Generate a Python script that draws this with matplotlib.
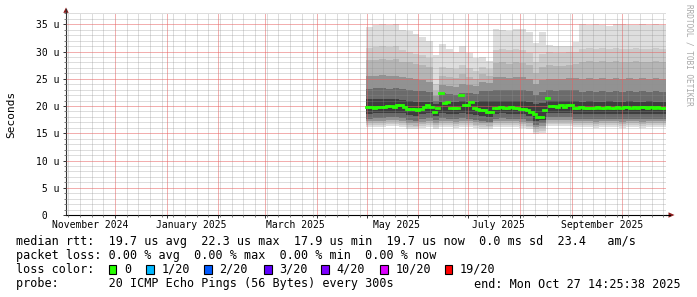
import numpy as np
import matplotlib
matplotlib.use("Agg")
import matplotlib.pyplot as plt
import matplotlib.dates as mdates
import matplotlib.transforms as mtransforms
from matplotlib.ticker import MultipleLocator, NullFormatter, FixedLocator
from matplotlib.lines import Line2D
from matplotlib.patches import Polygon, Rectangle
from datetime import datetime, timedelta

# ---------------- data ----------------
graph_start = datetime(2024, 11, 1, 14, 25, 38)
graph_end = datetime(2025, 10, 27, 14, 25, 38)
data_start = datetime(2025, 4, 30, 14, 25, 38)
smoke_step_days = 4
median_step_days = 2

# sorted-ping ranks (of 20) per 4-day bin, microseconds
smoke_r20 = [34.5, 34.8, 35.1, 34.8, 35.1, 34.0, 33.8, 33.2, 32.6, 32.0,
             29.3, 31.4, 30.4, 29.9, 31.0, 29.8, 28.8, 29.0, 28.3, 34.2,
             34.0, 33.8, 34.1, 34.1, 33.5, 31.5, 33.5, 31.2, 31.1, 31.0,
             31.0, 31.8, 35.0, 34.8, 35.1, 34.9, 34.7, 35.0, 35.1, 34.8,
             34.9, 35.0, 34.8, 35.0, 34.9]
smoke_r19 = [30.6, 30.8, 31.0, 30.8, 31.0, 30.2, 30.0, 29.6, 29.3, 28.8,
             24.0, 27.2, 27.0, 26.8, 27.5, 27.0, 26.5, 27.2, 26.8, 30.3,
             30.5, 30.2, 30.4, 30.3, 29.8, 28.0, 29.5, 29.9, 29.7, 29.8,
             29.9, 30.0, 30.5, 30.6, 30.4, 30.7, 30.5, 30.6, 30.4, 30.5,
             30.6, 30.5, 30.4, 30.6, 30.5]
smoke_r18 = [28.4, 28.5, 28.6, 28.4, 28.6, 28.1, 28.0, 27.7, 27.5, 27.1,
             22.8, 25.6, 25.4, 25.2, 25.8, 25.4, 25.0, 25.8, 25.5, 27.9,
             28.0, 27.8, 28.1, 27.9, 27.5, 26.0, 27.2, 27.5, 27.3, 27.4,
             27.6, 27.7, 28.1, 28.2, 28.0, 28.2, 28.1, 28.2, 28.0, 28.1,
             28.2, 28.1, 28.0, 28.2, 28.1]
smoke_r16 = [25.5, 25.6, 25.7, 25.5, 25.6, 25.3, 25.1, 25.0, 24.8, 24.5,
             21.8, 23.8, 23.7, 23.5, 24.0, 23.8, 23.6, 24.4, 24.2, 25.3,
             25.4, 25.2, 25.4, 25.3, 25.0, 24.0, 24.8, 25.0, 24.9, 25.0,
             25.1, 25.2, 25.0, 25.1, 25.0, 25.2, 25.0, 25.1, 25.0, 25.1,
             25.0, 25.1, 25.0, 25.1, 25.0]
smoke_r14 = [23.2, 23.3, 23.3, 23.2, 23.3, 23.1, 22.9, 22.8, 22.7, 22.5,
             21.0, 22.3, 22.2, 22.1, 22.4, 22.3, 22.2, 22.8, 22.7, 22.9,
             23.0, 22.9, 23.0, 22.9, 22.7, 22.0, 22.6, 22.9, 22.8, 22.9,
             22.9, 23.0, 22.6, 22.7, 22.6, 22.7, 22.6, 22.7, 22.6, 22.7,
             22.6, 22.7, 22.6, 22.7, 22.6]
smoke_r12 = [21.2, 21.2, 21.3, 21.2, 21.3, 21.1, 20.9, 20.8, 20.8, 20.7,
             20.3, 20.8, 20.8, 20.7, 20.9, 20.8, 20.7, 21.0, 21.0, 21.0,
             21.0, 21.0, 21.0, 21.0, 20.8, 20.3, 20.6, 20.9, 20.9, 20.9,
             20.9, 21.0, 20.8, 20.9, 20.8, 20.8, 20.9, 20.8, 20.8, 20.9,
             20.8, 20.8, 20.9, 20.8, 20.8]
smoke_r9 = [18.6, 18.7, 18.7, 18.8, 18.8, 18.7, 18.3, 18.2, 18.5, 18.7,
            18.2, 18.7, 18.6, 18.5, 18.7, 18.6, 18.4, 18.2, 18.0, 18.6,
            18.7, 18.6, 18.6, 18.5, 18.1, 17.2, 17.5, 18.8, 18.8, 18.8,
            18.8, 18.6, 18.6, 18.6, 18.5, 18.6, 18.6, 18.6, 18.5, 18.6,
            18.6, 18.5, 18.6, 18.6, 18.6]
smoke_r7 = [17.7, 17.8, 17.8, 17.9, 17.9, 17.8, 17.4, 17.3, 17.6, 17.8,
            17.4, 17.8, 17.7, 17.6, 17.8, 17.7, 17.5, 17.3, 17.1, 17.7,
            17.8, 17.7, 17.7, 17.6, 17.2, 16.6, 16.8, 17.9, 17.9, 17.9,
            17.9, 17.7, 17.7, 17.7, 17.6, 17.7, 17.7, 17.7, 17.6, 17.7,
            17.7, 17.6, 17.7, 17.7, 17.7]
smoke_r5 = [17.2, 17.3, 17.3, 17.4, 17.4, 17.3, 16.9, 16.8, 17.1, 17.3,
            16.9, 17.3, 17.2, 17.1, 17.3, 17.2, 17.0, 16.9, 16.8, 17.2,
            17.3, 17.2, 17.2, 17.1, 16.8, 16.2, 16.4, 17.4, 17.4, 17.4,
            17.4, 17.2, 17.2, 17.2, 17.1, 17.2, 17.2, 17.2, 17.1, 17.2,
            17.2, 17.1, 17.2, 17.2, 17.2]
smoke_r3 = [16.8, 16.9, 16.9, 17.0, 17.0, 16.9, 16.5, 16.4, 16.7, 16.9,
            16.5, 16.9, 16.8, 16.7, 16.9, 16.8, 16.6, 16.5, 16.4, 16.8,
            16.9, 16.8, 16.8, 16.7, 16.4, 15.7, 15.9, 17.0, 17.0, 17.0,
            17.0, 16.8, 16.8, 16.8, 16.7, 16.8, 16.8, 16.8, 16.7, 16.8,
            16.8, 16.7, 16.8, 16.8, 16.8]
smoke_r2 = [16.5, 16.6, 16.6, 16.7, 16.7, 16.6, 16.2, 16.1, 16.4, 16.6,
            16.1, 16.6, 16.5, 16.4, 16.6, 16.5, 16.3, 16.2, 16.1, 16.5,
            16.6, 16.5, 16.5, 16.4, 16.1, 15.3, 15.5, 16.7, 16.7, 16.7,
            16.7, 16.5, 16.5, 16.5, 16.4, 16.5, 16.5, 16.5, 16.4, 16.5,
            16.5, 16.4, 16.5, 16.5, 16.5]
smoke_r1 = [16.1, 16.2, 16.2, 16.3, 16.3, 16.2, 15.8, 15.7, 16.0, 16.2,
            15.7, 16.2, 16.1, 16.0, 16.2, 16.1, 15.9, 15.8, 15.7, 16.1,
            16.2, 16.1, 16.1, 16.0, 15.7, 14.9, 15.1, 16.3, 16.3, 16.3,
            16.3, 16.1, 16.1, 16.1, 16.0, 16.1, 16.1, 16.1, 16.0, 16.1,
            16.1, 16.0, 16.1, 16.1, 16.1]

# median rtt per 2-day bin, microseconds
median_rtt = [19.8, 19.8, 19.7, 19.9, 19.8, 19.9, 20.0, 20.0, 19.9, 20.1,
              20.2, 19.9, 19.5, 19.4, 19.4, 19.3, 19.5, 19.9, 20.1, 19.8,
              18.9, 19.7, 22.3, 20.5, 20.7, 19.7, 19.6, 19.6, 22.0, 20.2,
              20.2, 20.8, 19.6, 19.5, 19.2, 19.2, 18.9, 18.9, 19.7, 19.7,
              19.8, 19.7, 19.7, 19.8, 19.7, 19.7, 19.5, 19.4, 19.3, 18.9,
              18.6, 18.0, 17.9, 19.2, 21.4, 20.0, 20.0, 19.9, 20.1, 19.9,
              20.1, 20.2, 19.7, 19.7, 19.8, 19.7, 19.6, 19.7, 19.7, 19.8,
              19.7, 19.7, 19.8, 19.7, 19.6, 19.8, 19.7, 19.8, 19.8, 19.7,
              19.8, 19.7, 19.8, 19.9, 19.7, 19.8, 19.7, 19.8, 19.7, 19.7]

ytick_values = [0, 5, 10, 15, 20, 25, 30, 35]
ytick_labels = [" 0", " 5 u", "10 u", "15 u", "20 u", "25 u", "30 u", "35 u"]
xlabel_texts = ["November 2024", "January 2025", "March 2025", "May 2025",
                "July 2025", "September 2025"]
xlabel_dates = [datetime(2024, 11, 16), datetime(2025, 1, 16), datetime(2025, 3, 19),
                datetime(2025, 5, 19), datetime(2025, 7, 19), datetime(2025, 9, 19)]

legend_rtt = "median rtt:  19.7 us avg  22.3 us max  17.9 us min  19.7 us now  0.0 ms sd  23.4   am/s"
legend_loss = "packet loss: 0.00 % avg  0.00 % max  0.00 % min  0.00 % now"
loss_labels = ["0", "1/20", "2/20", "3/20", "4/20", "10/20", "19/20"]
loss_colors = ["#26ff00", "#00b8ff", "#0059ff", "#5e00ff", "#7e00ff", "#dd00ff", "#ff0000"]
probe_text = "probe:       20 ICMP Echo Pings (56 Bytes) every 300s"
end_text = "end: Mon Oct 27 14:25:38 2025"

# ---------------- figure ----------------
W, H = 697, 297
MONO = "DejaVu Sans Mono"
plt.rcParams["font.family"] = [MONO, "DejaVu Sans"]


def fx(px):
    return px / W


def fy(py):
    return 1 - py / H


fig = plt.figure(figsize=(W / 100, H / 100), dpi=100)
fig.patch.set_facecolor("white")
y_px_per_unit = 190.7 / 35.0
ymax = 37
ax = fig.add_axes([fx(66), fy(215), 600 / W, ymax * y_px_per_unit / H])
ax.set_facecolor("white")

# smoke
n_smoke = len(smoke_r20)
smoke_edges = [data_start + timedelta(days=smoke_step_days * i) for i in range(n_smoke + 1)]
xs = mdates.date2num(smoke_edges)
bands = [
    (smoke_r1, smoke_r20, "#dedede"),
    (smoke_r2, smoke_r19, "#cacaca"),
    (smoke_r3, smoke_r18, "#b5b5b5"),
    (smoke_r5, smoke_r16, "#929292"),
    (smoke_r7, smoke_r14, "#6b6b6b"),
    (smoke_r9, smoke_r12, "#3e3e3e"),
]
for lo, hi, col in bands:
    lo_a = np.append(lo, lo[-1])
    hi_a = np.append(hi, hi[-1])
    ax.fill_between(xs, lo_a, hi_a, step="post", color=col, lw=0, zorder=1)

# median
n_med = len(median_rtt)
med_edges = mdates.date2num([data_start + timedelta(days=median_step_days * i) for i in range(n_med + 1)])
ax.hlines(median_rtt, med_edges[:-1], med_edges[1:], colors="#26ff00", lw=2.0,
          zorder=3, capstyle="projecting")

# axes limits and grid
ax.set_xlim(mdates.date2num(graph_start), mdates.date2num(graph_end))
ax.set_ylim(0, ymax)
ax.xaxis.set_major_locator(mdates.MonthLocator())
ax.xaxis.set_minor_locator(mdates.WeekdayLocator(byweekday=mdates.SU))
ax.xaxis.set_major_formatter(NullFormatter())
ax.xaxis.set_minor_formatter(NullFormatter())
ax.yaxis.set_major_locator(FixedLocator(ytick_values))
ax.yaxis.set_minor_locator(MultipleLocator(1))
ax.set_yticklabels(ytick_labels)

ax.tick_params(axis="both", which="major", direction="out", length=2.2, width=0.7, color="#333333")
ax.tick_params(axis="both", which="minor", direction="out", length=1.4, width=0.7, color="#777777")
ax.tick_params(axis="y", which="major", pad=19.4, labelsize=7)

ax.set_axisbelow(False)
ax.grid(which="minor", color="#8f8f8f", alpha=0.3, linestyle=(0, (1, 1)), lw=0.72,
        antialiased=False)
ax.grid(which="major", color="#e75f5f", alpha=0.5, linestyle=(0, (1, 1)), lw=0.72,
        antialiased=False)

for t in ax.get_yticklabels():
    t.set_horizontalalignment("left")
    t.set_family(MONO)

for s in ["top", "right"]:
    ax.spines[s].set_visible(False)
ax.spines["left"].set_color("#333333")
ax.spines["bottom"].set_color("#000000")
ax.spines["left"].set_linewidth(0.8)
ax.spines["bottom"].set_linewidth(0.8)

# x labels (centered mid-month)
trans = mtransforms.blended_transform_factory(ax.transData, ax.transAxes)
ax_h_px = ymax * y_px_per_unit
for d, txt in zip(xlabel_dates, xlabel_texts):
    ax.text(mdates.date2num(d), -10.5 / ax_h_px, txt, transform=trans, ha="center",
            va="center", fontsize=7, family=MONO, color="black")

# axis arrows
arrow_col = "#8b1a1a"
fig.add_artist(Line2D([fx(66), fx(66)], [fy(215 - ymax * y_px_per_unit), fy(9)],
                      transform=fig.transFigure, color="#333333", lw=0.8))
fig.add_artist(Polygon([[fx(66), fy(7.5)], [fx(63.3), fy(12.8)], [fx(68.7), fy(12.8)]],
                       closed=True, transform=fig.transFigure, color=arrow_col, lw=0))
fig.add_artist(Line2D([fx(666), fx(670)], [fy(215), fy(215)],
                      transform=fig.transFigure, color="#000000", lw=0.8))
fig.add_artist(Polygon([[fx(674.5), fy(215)], [fx(668.5), fy(212.3)], [fx(668.5), fy(217.7)]],
                       closed=True, transform=fig.transFigure, color=arrow_col, lw=0))

# y axis title
fig.text(fx(11), fy(114), "Seconds", rotation=90, ha="center", va="center",
         fontsize=8, family=MONO, color="black")

# watermark
fig.text(fx(688.5), fy(4), "RRDTOOL / TOBI OETIKER", rotation=-90, ha="center", va="top",
         fontsize=5.6, family=MONO, color="#a8a8a8")

# legend
LS = 8.5
fig.text(fx(16), fy(241), legend_rtt, ha="left", va="center", fontsize=LS, family=MONO)
fig.text(fx(16), fy(255.5), legend_loss, ha="left", va="center", fontsize=LS, family=MONO)
fig.text(fx(16), fy(269.5), "loss color:", ha="left", va="center", fontsize=LS, family=MONO)
box_x = [108.5, 146, 204, 264, 321, 380, 444.5]
for bx, lab, col in zip(box_x, loss_labels, loss_colors):
    fig.add_artist(Rectangle((fx(bx), fy(273.5)), 7.5 / W, 8.5 / H, transform=fig.transFigure,
                             facecolor=col, edgecolor="black", lw=0.8))
    fig.text(fx(bx + 15.5), fy(269.5), lab, ha="left", va="center", fontsize=LS, family=MONO)
fig.text(fx(16), fy(284), probe_text, ha="left", va="center", fontsize=LS, family=MONO)
fig.text(fx(681), fy(284), end_text, ha="right", va="center", fontsize=LS, family=MONO)

fig.savefig("out.png", dpi=100, facecolor="white")
